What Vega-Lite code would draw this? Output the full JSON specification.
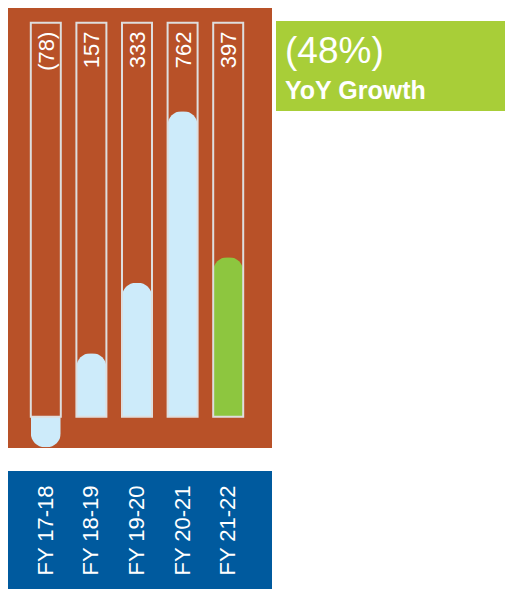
{
  "$schema": "https://vega.github.io/schema/vega-lite/v6.json",
  "padding": {"left": 8, "top": 7, "right": 0, "bottom": 0},
  "background": "white",
  "config": {"view": {"stroke": null}, "font": "Liberation Sans"},
  "datasets": {
    "growth": [
      {"fy": "FY 17-18", "value": -78, "label": "(78)"},
      {"fy": "FY 18-19", "value": 157, "label": "157"},
      {"fy": "FY 19-20", "value": 333, "label": "333"},
      {"fy": "FY 20-21", "value": 762, "label": "762"},
      {"fy": "FY 21-22", "value": 397, "label": "397"}
    ],
    "callout": [
      {"line": "headline", "text": "(48%)"},
      {"line": "sub", "text": "YoY Growth"}
    ]
  },
  "spacing": 23,
  "vconcat": [
    {
      "spacing": 4,
      "hconcat": [
        {
          "width": 264,
          "height": 440,
          "view": {"fill": "#b85128", "stroke": null},
          "data": {"name": "growth"},
          "encoding": {
            "x": {"field": "fy", "type": "nominal", "axis": null,
                  "sort": ["FY 17-18", "FY 18-19", "FY 19-20", "FY 20-21", "FY 21-22"],
                  "scale": {"type": "band", "range": [15, 243], "paddingInner": 0, "paddingOuter": 0}},
            "y": {"field": "value", "type": "quantitative", "axis": null,
                  "scale": {"domain": [-80, 1020], "nice": false, "zero": false}},
            "color": {"condition": {"test": "datum.fy === 'FY 21-22'", "value": "#8dc63f"}, "value": "#cdebfa"}
          },
          "layer": [
            {
              "transform": [{"filter": "datum.value >= 0"}],
              "mark": {"type": "bar", "width": 30, "cornerRadiusTopLeft": 14, "cornerRadiusTopRight": 14}
            },
            {
              "transform": [{"filter": "datum.value < 0"}],
              "mark": {"type": "bar", "width": 30, "cornerRadiusBottomLeft": 14, "cornerRadiusBottomRight": 14}
            },
            {
              "mark": {"type": "bar", "width": 30, "fillOpacity": 0, "stroke": "#dedede", "strokeWidth": 2},
              "encoding": {
                "y": {"datum": 983, "type": "quantitative"},
                "y2": {"datum": -2},
                "color": {"value": "#dedede"}
              }
            },
            {
              "mark": {"type": "text", "angle": 270, "align": "right", "baseline": "middle", "fontSize": 22, "dy": 1},
              "encoding": {
                "y": {"datum": 961, "type": "quantitative"},
                "text": {"field": "label"},
                "color": {"value": "white"}
              }
            }
          ]
        },
        {
          "spacing": 12,
          "vconcat": [
            {
              "width": 229,
              "height": 1,
              "data": {"values": [{"line": ""}]},
              "mark": {"type": "text", "opacity": 0, "fontSize": 1},
              "encoding": {"text": {"field": "line"}}
            },
            {
              "width": 229,
              "height": 90,
              "view": {"fill": "#a8ce38", "stroke": null},
              "data": {"name": "callout"},
              "encoding": {
                "y": {"field": "line", "type": "ordinal", "sort": ["headline", "sub"], "axis": null,
                      "scale": {"type": "point", "range": [42, 78], "padding": 0}},
                "x": {"datum": 0, "type": "quantitative", "axis": null,
                      "scale": {"domain": [0, 1], "range": [9, 229]}},
                "text": {"field": "text"}
              },
              "layer": [
                {
                  "transform": [{"filter": "datum.line === 'headline'"}],
                  "mark": {"type": "text", "align": "left", "baseline": "alphabetic", "fontSize": 37, "color": "white"}
                },
                {
                  "transform": [{"filter": "datum.line === 'sub'"}],
                  "mark": {"type": "text", "align": "left", "baseline": "alphabetic", "fontSize": 25, "fontWeight": "bold", "color": "white"}
                }
              ]
            }
          ]
        }
      ]
    },
    {
      "width": 264,
      "height": 119,
      "view": {"fill": "#005a9e", "stroke": null},
      "data": {"name": "growth"},
      "mark": {"type": "text", "angle": 270, "align": "center", "baseline": "middle", "fontSize": 22, "color": "white"},
      "encoding": {
        "x": {"field": "fy", "type": "nominal", "axis": null,
              "sort": ["FY 17-18", "FY 18-19", "FY 19-20", "FY 20-21", "FY 21-22"],
              "scale": {"type": "band", "range": [15, 243], "paddingInner": 0, "paddingOuter": 0}},
        "text": {"field": "fy"}
      }
    }
  ]
}
